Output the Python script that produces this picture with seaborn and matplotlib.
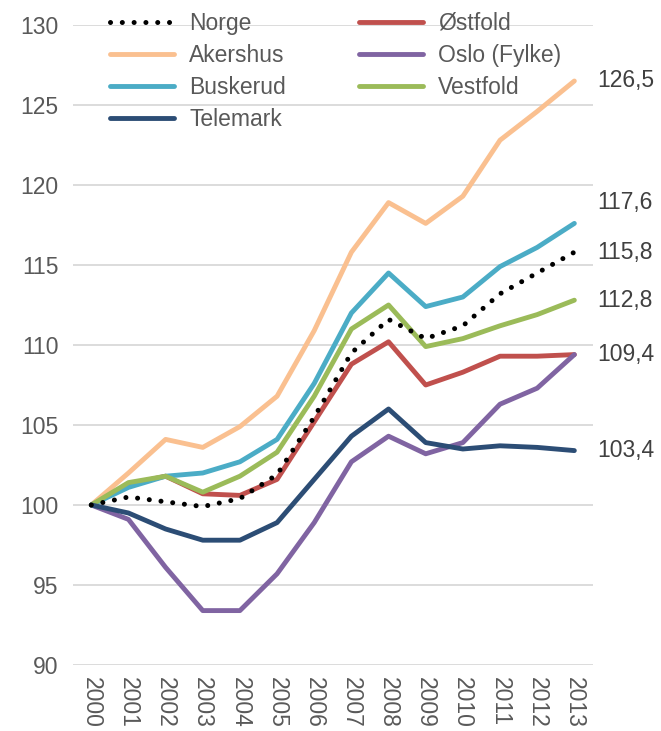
import matplotlib
matplotlib.use("Agg")
import matplotlib.pyplot as plt
import pandas as pd
import seaborn as sns

# Data (index, 2000 = 100)
years = list(range(2000, 2014))
norge    = [100, 100.5, 100.2, 99.9, 100.4, 101.9, 105.5, 109.5, 111.6, 110.4, 111.2, 113.2, 114.5, 115.8]
ostfold  = [100, 101.3, 101.8, 100.7, 100.6, 101.6, 105.2, 108.8, 110.2, 107.5, 108.3, 109.3, 109.3, 109.4]
akershus = [100, 102.0, 104.1, 103.6, 104.9, 106.8, 110.9, 115.8, 118.9, 117.6, 119.3, 122.8, 124.6, 126.5]
oslo     = [100, 99.1, 96.1, 93.4, 93.4, 95.7, 98.9, 102.7, 104.3, 103.2, 103.9, 106.3, 107.3, 109.4]
buskerud = [100, 101.1, 101.8, 102.0, 102.7, 104.1, 107.6, 112.0, 114.5, 112.4, 113.0, 114.9, 116.1, 117.6]
vestfold = [100, 101.4, 101.8, 100.8, 101.8, 103.3, 106.8, 111.0, 112.5, 109.9, 110.4, 111.2, 111.9, 112.8]
telemark = [100, 99.5, 98.5, 97.8, 97.8, 98.9, 101.6, 104.3, 106.0, 103.9, 103.5, 103.7, 103.6, 103.4]

series = {
    "Norge": norge,
    "Østfold": ostfold,
    "Akershus": akershus,
    "Oslo (Fylke)": oslo,
    "Buskerud": buskerud,
    "Vestfold": vestfold,
    "Telemark": telemark,
}
colors = {
    "Norge": "#000000",
    "Østfold": "#C0504D",
    "Akershus": "#FAC090",
    "Oslo (Fylke)": "#8064A2",
    "Buskerud": "#4BACC6",
    "Vestfold": "#9BBB59",
    "Telemark": "#2C4D75",
}

# end labels: (text, y position in data units)
end_labels = [("126,5", 126.5), ("117,6", 118.9), ("115,8", 115.8),
              ("112,8", 112.8), ("109,4", 109.4), ("103,4", 103.4)]

df = pd.DataFrame([(name, y, v) for name, vals in series.items() for y, v in zip(years, vals)],
                  columns=["region", "year", "value"])

sns.set_style("white")
plt.rcParams["font.family"] = ["Liberation Sans", "DejaVu Sans"]

fig = plt.figure(figsize=(6.61, 7.31), dpi=100)
ax = fig.add_axes([0.110, 0.0903, 0.787, 0.8755])

handles = {}
for name in ["Østfold", "Akershus", "Oslo (Fylke)", "Buskerud", "Vestfold", "Telemark", "Norge"]:
    sub = df[df["region"] == name]
    if name == "Norge":
        sns.lineplot(data=sub, x="year", y="value", ax=ax, color=colors[name], lw=3.6,
                     linestyle=(0, (0.01, 2.35)), dash_capstyle="round", zorder=10, label=name)
    else:
        sns.lineplot(data=sub, x="year", y="value", ax=ax, color=colors[name], lw=3.5,
                     solid_capstyle="round", zorder=5, label=name)
    handles[name] = ax.get_lines()[-1]

ax.set_xlim(1999.5, 2013.5)
ax.set_ylim(90, 130)
ax.set_yticks(range(90, 131, 5))
ax.set_xticks(years)
ax.set_xticklabels([str(y) for y in years], rotation=-90)
ax.tick_params(axis="both", length=0, labelsize=16.5, labelcolor="#595959", pad=9)
ax.tick_params(axis="y", pad=10)
ax.set_xlabel("")
ax.set_ylabel("")
ax.grid(axis="y", color="#D9D9D9", lw=1.3, zorder=0)
ax.set_axisbelow(True)
for s in ax.spines.values():
    s.set_visible(False)

for txt, yv in end_labels:
    ax.text(2013.63, yv, txt, fontsize=16.5, color="#404040", va="center", ha="left", clip_on=False)

order = ["Norge", "Akershus", "Buskerud", "Telemark", "Østfold", "Oslo (Fylke)", "Vestfold"]
leg = ax.legend([handles[n] for n in order], order, ncol=2, frameon=False, loc="upper left",
                bbox_to_anchor=(0.072, 1.021), fontsize=16.5, handlelength=2.8, columnspacing=3.2,
                labelspacing=0.4, handletextpad=0.65, borderaxespad=0.0, borderpad=0.0)
for t in leg.get_texts():
    t.set_color("#595959")

fig.savefig("out.png", dpi=100)
